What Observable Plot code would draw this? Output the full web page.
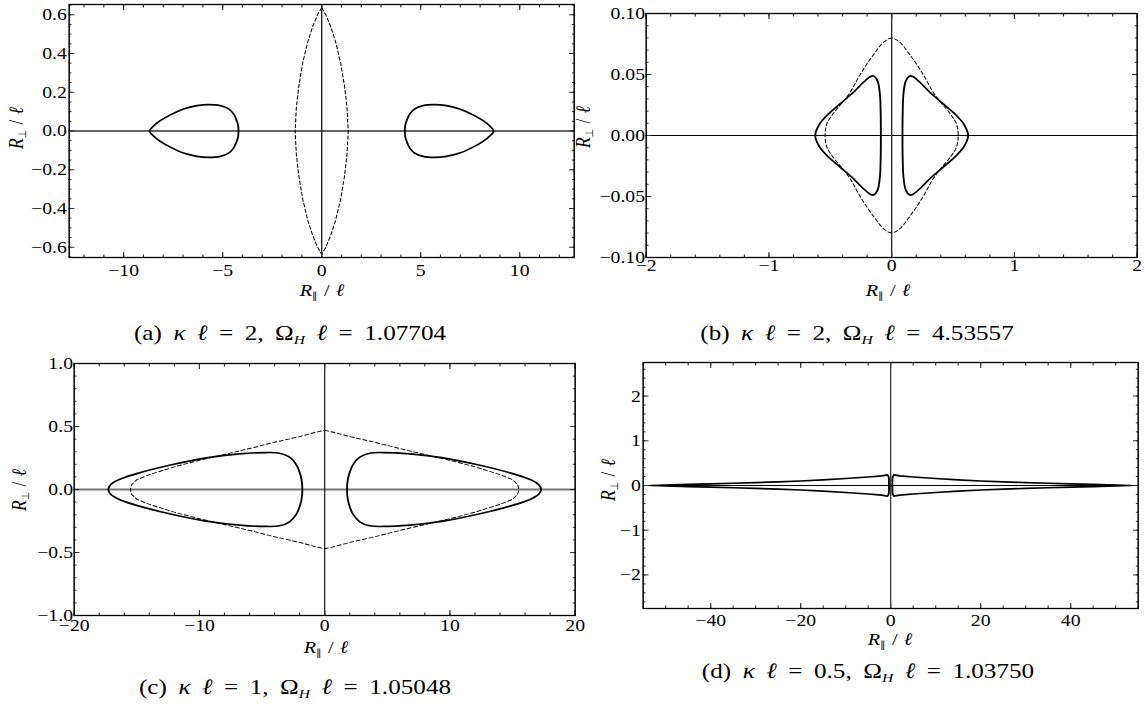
<!DOCTYPE html>
<html>
<head>
<meta charset="utf-8">
<script src="https://cdn.jsdelivr.net/npm/d3@7"></script>
<script src="https://cdn.jsdelivr.net/npm/@observablehq/plot@0.6"></script>
<style>
  body { margin: 0; background: #fff; }
  #fig { position: relative; width: 1145px; height: 706px; overflow: hidden;
         font-family: "Liberation Serif", "Times New Roman", serif; color: #000; }
  .panel { position: absolute; transform-origin: 0 0; }
  .panel svg { overflow: visible; display: block; max-width: none !important; }
  .panel svg text { font-family: "Liberation Serif", "Times New Roman", serif !important;
                    font-size: 17px !important; fill: #000; }
  .lab { position: absolute; font-size: 17.5px; white-space: nowrap; line-height: 1;
         word-spacing: 1px; transform: translate(-50%, -50%) scaleX(1.16); }
  .lab.rot { transform: translate(-50%, -50%) scaleX(1.16) rotate(-90deg); }
  .cap { position: absolute; font-size: 21.7px; white-space: nowrap; line-height: 1;
         word-spacing: 4.5px; transform: translateX(-50%) scaleX(1.16); }
  sub { font-size: 0.62em; vertical-align: -0.28em; line-height: 0; }
  sub.sym { font-family: "DejaVu Sans", sans-serif; font-size: 0.55em; color: #000; }
</style>
</head>
<body>
<div id="fig"></div>
<script>
// ---- tick labels -------------------------------------------------------
const aXTicks = [-10, -5, 0, 5, 10];
const aYTicks = [-0.6, -0.4, -0.2, 0, 0.2, 0.4, 0.6];
const bXTicks = [-2, -1, 0, 1, 2];
const bYTicks = [-0.10, -0.05, 0, 0.05, 0.10];
const cXTicks = [-20, -10, 0, 10, 20];
const cYTicks = [-1, -0.5, 0, 0.5, 1];
const dXTicks = [-40, -20, 0, 20, 40];
const dYTicks = [-2, -1, 0, 1, 2];

// ---- curves (upper halves of the x > 0 lobes, quarters of the dashed curves) ----
// (a) κℓ = 2, Ω_H ℓ = 1.07704
const aLobe = [[4.20, 0], [4.22, 0.030], [4.29, 0.053], [4.45, 0.088], [4.70, 0.114],
  [5.12, 0.131], [5.71, 0.136], [6.30, 0.131], [6.97, 0.114], [7.64, 0.083],
  [8.15, 0.053], [8.49, 0.026], [8.69, 0]];
const aDashed = [[0, 0.636], [0.20, 0.602], [0.45, 0.540], [0.70, 0.462], [0.95, 0.355],
  [1.15, 0.235], [1.28, 0.120], [1.34, 0]];

// (b) κℓ = 2, Ω_H ℓ = 4.53557
const bLobe = [[0.088, 0], [0.090, 0.020], [0.096, 0.034], [0.116, 0.045], [0.148, 0.0488],
  [0.175, 0.0482], [0.230, 0.0436], [0.311, 0.0354], [0.420, 0.0259], [0.528, 0.0164],
  [0.590, 0.0090], [0.623, 0]];
const bDashed = [[0, 0.0799], [0.067, 0.0763], [0.134, 0.0681], [0.202, 0.0586],
  [0.270, 0.0477], [0.338, 0.0354], [0.406, 0.0264], [0.474, 0.0182],
  [0.528, 0.0095], [0.542, 0]];

// (c) κℓ = 1, Ω_H ℓ = 1.05048
const cLobe = [[1.78, 0], [1.85, 0.080], [2.05, 0.150], [2.27, 0.198], [2.80, 0.256],
  [3.60, 0.288], [4.67, 0.293], [6.80, 0.283], [9.47, 0.251], [12.13, 0.198],
  [14.80, 0.132], [16.40, 0.079], [17.07, 0.040], [17.28, 0]];
const cDashed = [[0, 0.470], [0.8, 0.452], [2, 0.420], [4, 0.375], [6, 0.325], [8, 0.278],
  [10, 0.232], [12, 0.180], [14, 0.118], [15, 0.078], [15.4, 0.040], [15.52, 0]];

// (d) κℓ = 0.5, Ω_H ℓ = 1.03750
const dLobe = [[0.38, 0], [0.38, 0.12], [0.45, 0.20], [0.70, 0.237], [2, 0.215], [5, 0.190],
  [10, 0.155], [15, 0.125], [20, 0.100], [25, 0.080], [30, 0.065], [35, 0.050],
  [40, 0.037], [45, 0.025], [50, 0.012], [53.3, 0]];

// ---- symmetric completion of the closed curves ----
function lobe(upper, sx) {
  const top = upper.map(([x, y]) => ({x: sx * x, y}));
  const bottom = upper.slice(1, -1).reverse().map(([x, y]) => ({x: sx * x, y: -y}));
  return top.concat(bottom);
}
function fourfold(q) {
  const tr = q.map(([x, y]) => ({x, y}));
  const br = q.slice(0, -1).reverse().map(([x, y]) => ({x, y: -y}));
  const bl = q.slice(1).map(([x, y]) => ({x: -x, y: -y}));
  const tl = q.slice(1, -1).reverse().map(([x, y]) => ({x: -x, y}));
  return tr.concat(br, bl, tl);
}

const ell = "<i>ℓ</i>";
const capText = (tag, k, w) =>
  `(${tag}) <i>κ</i> ${ell} = ${k}, Ω<sub><i>H</i></sub> ${ell} = ${w}`;

const panels = [
  {box: {left: 69, top: 4, width: 505, height: 253},
   xDomain: [-12.75, 12.75], yDomain: [-0.653, 0.653],
   xTicks: aXTicks, yTicks: aYTicks, xFmt: d3.format("d"), yFmt: d3.format(".1f"),
   xMinor: d3.range(-12, 13, 1), yMinor: d3.range(-13, 14).map(i => i * 0.05),
   xPad: 6, yPad: 2,
   hAxis: {stroke: "#333", width: 1.5}, vAxis: {stroke: "#222", width: 1.2},
   solid: [lobe(aLobe, 1), lobe(aLobe, -1)], solidCurve: "catmull-rom-closed",
   dashed: [fourfold(aDashed)], dashedCurve: "linear-closed",
   xLab: [322, 291], yLab: [17, 128],
   cap: {x: 290, y: 323, html: capText("a", "2", "1.07704")}},
  {box: {left: 646, top: 13, width: 491, height: 244},
   xDomain: [-2, 2], yDomain: [-0.1, 0.1],
   xTicks: bXTicks, yTicks: bYTicks, xFmt: d3.format("d"), yFmt: d3.format(".2f"),
   xMinor: d3.range(-10, 11).map(i => i * 0.2), yMinor: d3.range(-10, 11).map(i => i * 0.01),
   xPad: 1, yPad: 1,
   hAxis: {stroke: "#000", width: 1.2}, vAxis: {stroke: "#222", width: 1.1},
   solid: [lobe(bLobe, 1), lobe(bLobe, -1)], solidCurve: "catmull-rom-closed",
   dashed: [fourfold(bDashed)], dashedCurve: "catmull-rom-closed",
   xLab: [888, 291], yLab: [584, 127],
   cap: {x: 857, y: 323, html: capText("b", "2", "4.53557")}},
  {box: {left: 74, top: 363, width: 501, height: 252},
   xDomain: [-20, 20], yDomain: [-1, 1],
   xTicks: cXTicks, yTicks: cYTicks, xFmt: d3.format("d"), yFmt: d3.format(".1f"),
   xMinor: d3.range(-20, 21, 2), yMinor: d3.range(-10, 11).map(i => i * 0.1),
   xPad: 3, yPad: 1,
   hAxis: {stroke: "#777", width: 2.2}, vAxis: {stroke: "#222", width: 1.1},
   solid: [lobe(cLobe, 1), lobe(cLobe, -1)], solidCurve: "catmull-rom-closed",
   dashed: [fourfold(cDashed)], dashedCurve: "linear-closed",
   xLab: [326, 648], yLab: [20, 490],
   cap: {x: 295, y: 677, html: capText("c", "1", "1.05048")}},
  {box: {left: 643, top: 362, width: 495, height: 246},
   xDomain: [-55, 55], yDomain: [-2.75, 2.75],
   xTicks: dXTicks, yTicks: dYTicks, xFmt: d3.format("d"), yFmt: d3.format("d"),
   xMinor: d3.range(-55, 56, 5), yMinor: d3.range(-13, 14).map(i => i * 0.2),
   xPad: 5, yPad: 2,
   hAxis: {stroke: "#000", width: 1.1}, vAxis: {stroke: "#222", width: 1.0},
   solid: [lobe(dLobe, 1), lobe(dLobe, -1)], solidCurve: "linear-closed",
   dashed: [], dashedCurve: "linear-closed",
   xLab: [890, 640], yLab: [609, 480],
   cap: {x: 868, y: 661, html: capText("d", "0.5", "1.03750")}}
];

const fig = document.getElementById("fig");
// the whole figure is typeset slightly wide: each panel is drawn narrower and stretched by S
const S = 1.16;
const mL = 60, mR = 20, mT = 20, mB = 50;

for (const p of panels) {
  const innerW = p.box.width / S;
  const svgW = innerW + mL + mR, svgH = p.box.height + mT + mB;
  const frameTicks = (ticks, size) => [
    Plot.axisX(ticks, {anchor: "bottom", tickSize: size, fill: "none", label: null, stroke: "#333"}),
    Plot.axisX(ticks, {anchor: "top", tickSize: size, fill: "none", label: null, stroke: "#333"})
  ];
  const frameTicksY = (ticks, size) => [
    Plot.axisY(ticks, {anchor: "left", tickSize: size, fill: "none", label: null, stroke: "#333"}),
    Plot.axisY(ticks, {anchor: "right", tickSize: size, fill: "none", label: null, stroke: "#333"})
  ];
  const chart = Plot.plot({
    width: svgW,
    height: svgH,
    marginLeft: mL, marginRight: mR, marginTop: mT, marginBottom: mB,
    style: {fontFamily: '"Liberation Serif", "Times New Roman", serif', fontSize: "17px",
            color: "#000", background: "transparent", overflow: "visible"},
    x: {domain: p.xDomain},
    y: {domain: p.yDomain},
    marks: [
      Plot.ruleY([0], {stroke: p.hAxis.stroke, strokeWidth: p.hAxis.width}),
      Plot.ruleX([0], {stroke: p.vAxis.stroke, strokeWidth: p.vAxis.width}),
      ...p.dashed.map(d => Plot.line(d, {x: "x", y: "y", curve: p.dashedCurve,
        stroke: "#000", strokeWidth: 0.9, strokeDasharray: "3.5,2.2"})),
      ...p.solid.map(d => Plot.line(d, {x: "x", y: "y", curve: p.solidCurve,
        stroke: "#000", strokeWidth: 1.6})),
      Plot.axisX(p.xTicks, {anchor: "bottom", tickSize: 0, tickPadding: p.xPad,
        tickFormat: p.xFmt, label: null, fontSize: 17}),
      Plot.axisY(p.yTicks, {anchor: "left", tickSize: 0, tickPadding: p.yPad,
        tickFormat: p.yFmt, label: null, fontSize: 17}),
      ...frameTicks(p.xTicks, -5), ...frameTicks(p.xMinor, -2.5),
      ...frameTicksY(p.yTicks, -5), ...frameTicksY(p.yMinor, -2.5),
      Plot.frame({stroke: "#000", strokeWidth: 1.3})
    ]
  });
  chart.setAttribute("width", svgW);
  chart.setAttribute("height", svgH);
  chart.style.width = svgW + "px";
  chart.style.height = svgH + "px";

  const holder = document.createElement("div");
  holder.className = "panel";
  holder.style.left = (p.box.left - mL * S) + "px";
  holder.style.top = (p.box.top - mT) + "px";
  holder.style.width = svgW + "px";
  holder.style.height = svgH + "px";
  holder.style.transform = `scaleX(${S})`;
  holder.appendChild(chart);
  fig.appendChild(holder);

  const xl = document.createElement("div");
  xl.className = "lab";
  xl.style.left = p.xLab[0] + "px";
  xl.style.top = p.xLab[1] + "px";
  xl.innerHTML = "<i>R</i><sub class=\"sym\">∥</sub> / <i>ℓ</i>";
  fig.appendChild(xl);

  const yl = document.createElement("div");
  yl.className = "lab rot";
  yl.style.left = p.yLab[0] + "px";
  yl.style.top = p.yLab[1] + "px";
  yl.innerHTML = "<i>R</i><sub class=\"sym\">⊥</sub> / <i>ℓ</i>";
  fig.appendChild(yl);

  const cap = document.createElement("div");
  cap.className = "cap";
  cap.style.left = p.cap.x + "px";
  cap.style.top = p.cap.y + "px";
  cap.innerHTML = p.cap.html;
  fig.appendChild(cap);
}
</script>
</body>
</html>
